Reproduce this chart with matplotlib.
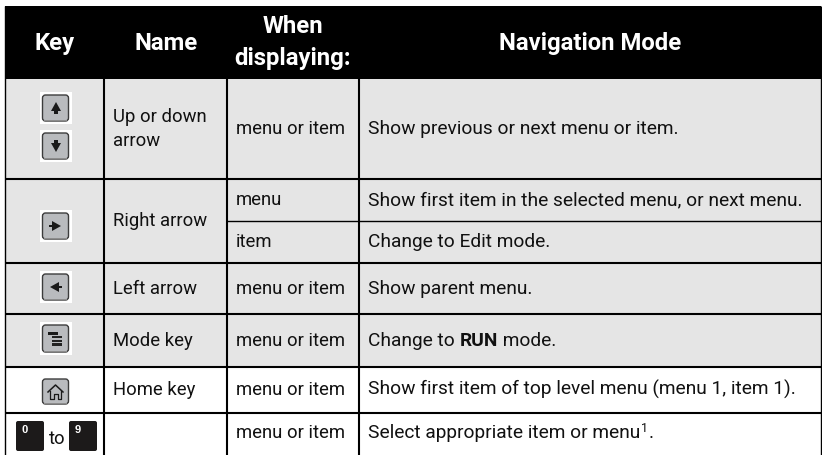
import matplotlib
matplotlib.use('Agg')
import matplotlib.pyplot as plt
from matplotlib.patches import FancyBboxPatch, Rectangle, Polygon

W = 822
H = 455
FONT = ['Roboto', 'Liberation Sans', 'DejaVu Sans']

headers = ['Key', 'Name', 'When\ndisplaying:', 'Navigation Mode']
names = ['Up or down\narrow', 'Right arrow', 'Left arrow', 'Mode key', 'Home key']
showing = ['menu or item', 'menu', 'item', 'menu or item', 'menu or item', 'menu or item', 'menu or item']
actions = ['Show previous or next menu or item.',
           'Show first item in the selected menu, or next menu.',
           'Change to Edit mode.',
           'Show parent menu.',
           'Change to |RUN| mode.',
           'Show first item of top level menu (menu 1, item 1).',
           'Select appropriate item or menu']

col_x = [4.5, 104, 227, 359, 821]
row_y = [79, 179, 220.5, 262.5, 314, 367, 412.5, 455]
GREY = '#e5e5e5'

fig = plt.figure(figsize=(W / 100, H / 100), dpi=100)
ax = fig.add_axes([0, 0, 1, 1])
ax.set_xlim(0, W)
ax.set_ylim(H, 0)
ax.axis('off')


def put(x, y, s, size=13.3, color='#111111', **kw):
    return ax.text(x, y, s, family=FONT, fontsize=size, va='baseline', color=color, **kw)


def key_box(y0, y1, white=True):
    if white:
        ax.add_patch(Rectangle((40, y0 - 1), 32, y1 - y0 + 2, fc='white', ec='none', zorder=2))
    ax.add_patch(FancyBboxPatch((42.5, y0 + 2), 26, y1 - y0 - 4, boxstyle='round,pad=0,rounding_size=3',
                                fc='#b9bbbe', ec='#3c3c3c', lw=1, mutation_aspect=1, zorder=3))
    ax.add_patch(Rectangle((44, y1 - 3), 23, 1.2, fc='#8c8c8c', ec='none', zorder=4))


def glyph(pts):
    ax.add_patch(Polygon(pts, closed=True, fc='#1a1a1a', ec='none', zorder=5))


# backgrounds
ax.add_patch(Rectangle((col_x[0], 6), col_x[-1] - col_x[0], row_y[0] - 6, fc='black', ec='none'))
ax.add_patch(Rectangle((col_x[0], row_y[0]), col_x[-1] - col_x[0], row_y[5] - row_y[0], fc=GREY, ec='none'))

# grid lines
for y in row_y[1:-1]:
    lw = 1.0 if y == row_y[2] else 1.5
    x0 = col_x[2] if y == row_y[2] else col_x[0]
    ax.plot([x0, col_x[-1]], [y, y], color='black', lw=lw, solid_capstyle='butt')
for x in col_x:
    y0 = 6 if x in (col_x[0], col_x[-1]) else row_y[0]
    lw = 1.0 if x in (col_x[0], col_x[-1]) else 1.5
    ax.plot([x, x], [y0, H], color='black', lw=lw, solid_capstyle='butt')

# header
put(54.5, 50, headers[0], size=17.2, ha='center', weight='bold', color='white')
put(166, 50, headers[1], size=17.2, ha='center', weight='bold', color='white')
when = headers[2].split('\n')
put(293, 33, when[0], size=17.2, ha='center', weight='bold', color='white')
put(293, 65.5, when[1], size=17.2, ha='center', weight='bold', color='white')
put(590, 50, headers[3], size=17.2, ha='center', weight='bold', color='white')

# name column
first = names[0].split('\n')
put(113, 122, first[0])
put(113, 146, first[1])
put(113, 226, names[1])
put(113, 294, names[2])
put(113, 346, names[3])
put(113, 395, names[4])

# when column
when_y = [134, 205, 247, 294, 346, 395, 438]
for y, s in zip(when_y, showing):
    put(236, y, s)

# action column, with bold parts between bars
fig.canvas.draw()
rend = fig.canvas.get_renderer()
inv = ax.transData.inverted()
for i, (y, s) in enumerate(zip(when_y, actions)):
    x = 368
    for j, part in enumerate(s.split('|')):
        t = put(x, y, part, size=13.75, weight='bold' if j % 2 else 'normal')
        ext = t.get_window_extent(rend)
        x = inv.transform((ext.x1, ext.y0))[0]
    if i == len(actions) - 1:
        # footnote mark
        ext = put(x + 0.5, y - 6, '1', size=9)
        ext = ext.get_window_extent(rend)
        put(inv.transform((ext.x1, ext.y0))[0] + 0.5, y, '.', size=13.75)

# keys
key_box(93, 123)
glyph([(56, 102), (61, 111), (58, 111), (58, 114), (54, 114), (54, 111), (51, 111)])
key_box(131, 161)
glyph([(56, 152), (61, 143), (58, 143), (58, 140), (54, 140), (54, 143), (51, 143)])
key_box(211, 241)
glyph([(61, 226), (52, 221), (52, 231)])
glyph([(49, 225), (53, 225), (53, 227), (49, 227)])
key_box(272, 302)
glyph([(50, 287), (59, 282), (59, 292)])
glyph([(58, 286), (62, 286), (62, 288), (58, 288)])
key_box(323, 354)
glyph([(48, 332), (58, 332), (58, 334.5), (48, 334.5)])
for y0 in (335.5, 339.5, 343):
    ax.add_patch(Rectangle((52, y0), 10, 2.6, fc='#222222', ec='none', zorder=5))
key_box(377, 406, white=False)
ax.plot([48, 55.5, 63], [392, 385, 392], color='#1a1a1a', lw=1.1, zorder=5)
ax.plot([50, 50, 53.5, 53.5, 57.5, 57.5, 61, 61], [391, 399, 399, 394, 394, 399, 399, 391],
        color='#1a1a1a', lw=0.9, zorder=5)

# number keys
for x0, digit in ((16, '0'), (69, '9')):
    ax.add_patch(FancyBboxPatch((x0, 421), 28, 30, boxstyle='round,pad=0,rounding_size=2',
                                fc='#1c1a1a', ec='none', zorder=3))
    ax.text(x0 + 9, 433, digit, family=['Liberation Sans', 'DejaVu Sans'], fontsize=8, weight='bold',
            color='white', ha='center', va='baseline', zorder=4)
put(57, 444, 'to', ha='center')

fig.savefig('out.png', dpi=100)
